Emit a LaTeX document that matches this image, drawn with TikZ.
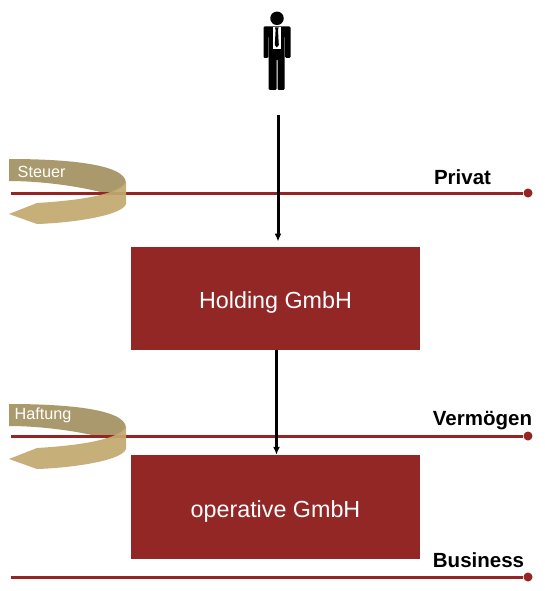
\documentclass[tikz,border=0pt]{standalone}
\usepackage{fontspec}
\setmainfont{Liberation Sans}
\definecolor{boxred}{HTML}{922726}
\definecolor{linered}{HTML}{962423}
\definecolor{tandark}{HTML}{A9996C}
\definecolor{tanlight}{HTML}{C2A96F}
\usetikzlibrary{arrows.meta}
\tikzset{
  gbox/.style={fill=boxred,draw=none,minimum width=289pt,minimum height=103pt,inner sep=0pt,text=white,text height=25pt,text depth=5pt,font=\fontsize{23.3}{27}\selectfont},
  level/.style={draw=linered,line width=3pt},
  enddot/.style={circle,fill=linered,minimum size=9pt,inner sep=0pt},
  levellabel/.style={font=\fontsize{20.5}{24}\selectfont\bfseries,anchor=base,inner sep=0pt},
  swooshlabel/.style={text=white,font=\fontsize{16.2}{19}\selectfont,anchor=base west,inner sep=0pt},
  flow/.style={draw=black,line width=3pt,-{Latex[length=8pt,width=7pt]}},
}
\newcommand{\swoosh}[1]{%
  \begin{scope}[yshift=#1]
  \fill[tandark] (9,159) .. controls (60,159) and (126,163) .. (126,183)
     .. controls (124,187) and (116,192) .. (108,194)
     .. controls (80,186) and (40,181) .. (9,181) -- cycle;
  \end{scope}}
\newcommand{\swooshfront}[1]{%
  \begin{scope}[yshift=#1]
  \fill[tanlight,opacity=.93] (126,181) -- (126,204)
     .. controls (122,216) and (70,223) .. (37,224)
     -- (9,214) -- (37,203)
     .. controls (70,201) and (120,196) .. (126,181) -- cycle;
  \end{scope}}
\begin{document}
\begin{tikzpicture}[x=1pt,y=-1pt]
\useasboundingbox (0,0) rectangle (545,591);
% person
\node[circle,fill=black,minimum size=13.5pt,inner sep=0pt] (head) at (277,18.3) {};
\fill[black,rounded corners=1.2pt] (263.5,26.5) -- (290.5,26.5) -- (290.5,58) -- (285.2,58) -- (285.2,36) -- (284.6,36) -- (284.6,90) -- (277.5,90) -- (277.5,59) -- (276.5,59) -- (276.5,90) -- (268.6,90) -- (268.6,36) -- (268.2,36) -- (268.2,58) -- (263.5,58) -- cycle;
\fill[white] (272.5,27) -- (281,27) -- (281,49.5) -- (272.5,49.5) -- cycle;
\fill[black] (275,27.5) -- (278.6,27.5) -- (278,30) -- (278.8,45) -- (276.8,47.5) -- (274.8,45) -- (275.6,30) -- cycle;
\coordinate (start) at (278,115);
% swooshes and levels
\swoosh{0pt}
\swoosh{-245pt}
\node[swooshlabel] (steuer) at (17.5,177) {Steuer};
\node[swooshlabel] (haftung) at (14.5,419) {Haftung};
\coordinate (p1) at (11,193);
\node[enddot] (p2) at (528,193) {};
\coordinate (v1) at (11,436);
\node[enddot] (v2) at (528,436) {};
\coordinate (b1) at (11,577);
\node[enddot] (b2) at (528,577) {};
\draw[level] (p1) -- (p2);
\draw[level] (v1) -- (v2);
\draw[level] (b1) -- (b2);
\swooshfront{0pt}
\swooshfront{-245pt}
% boxes
\node[gbox] (holding) at (275.5,298.5) {Holding GmbH};
\node[gbox,minimum height=104pt] (operative) at (275.5,507) {operative GmbH};
\coordinate (hin) at (278,241.5);
\draw[flow] (start) -- (hin);
\draw[flow] (holding.south -| 276.5,0) -- (operative.north -| 276.5,0);
% labels
\node[levellabel] (privat) at (462.5,184) {Privat};
\node[levellabel] (verm) at (482.5,425) {Vermögen};
\node[levellabel] (bus) at (478.5,567) {Business};
\end{tikzpicture}
\end{document}
